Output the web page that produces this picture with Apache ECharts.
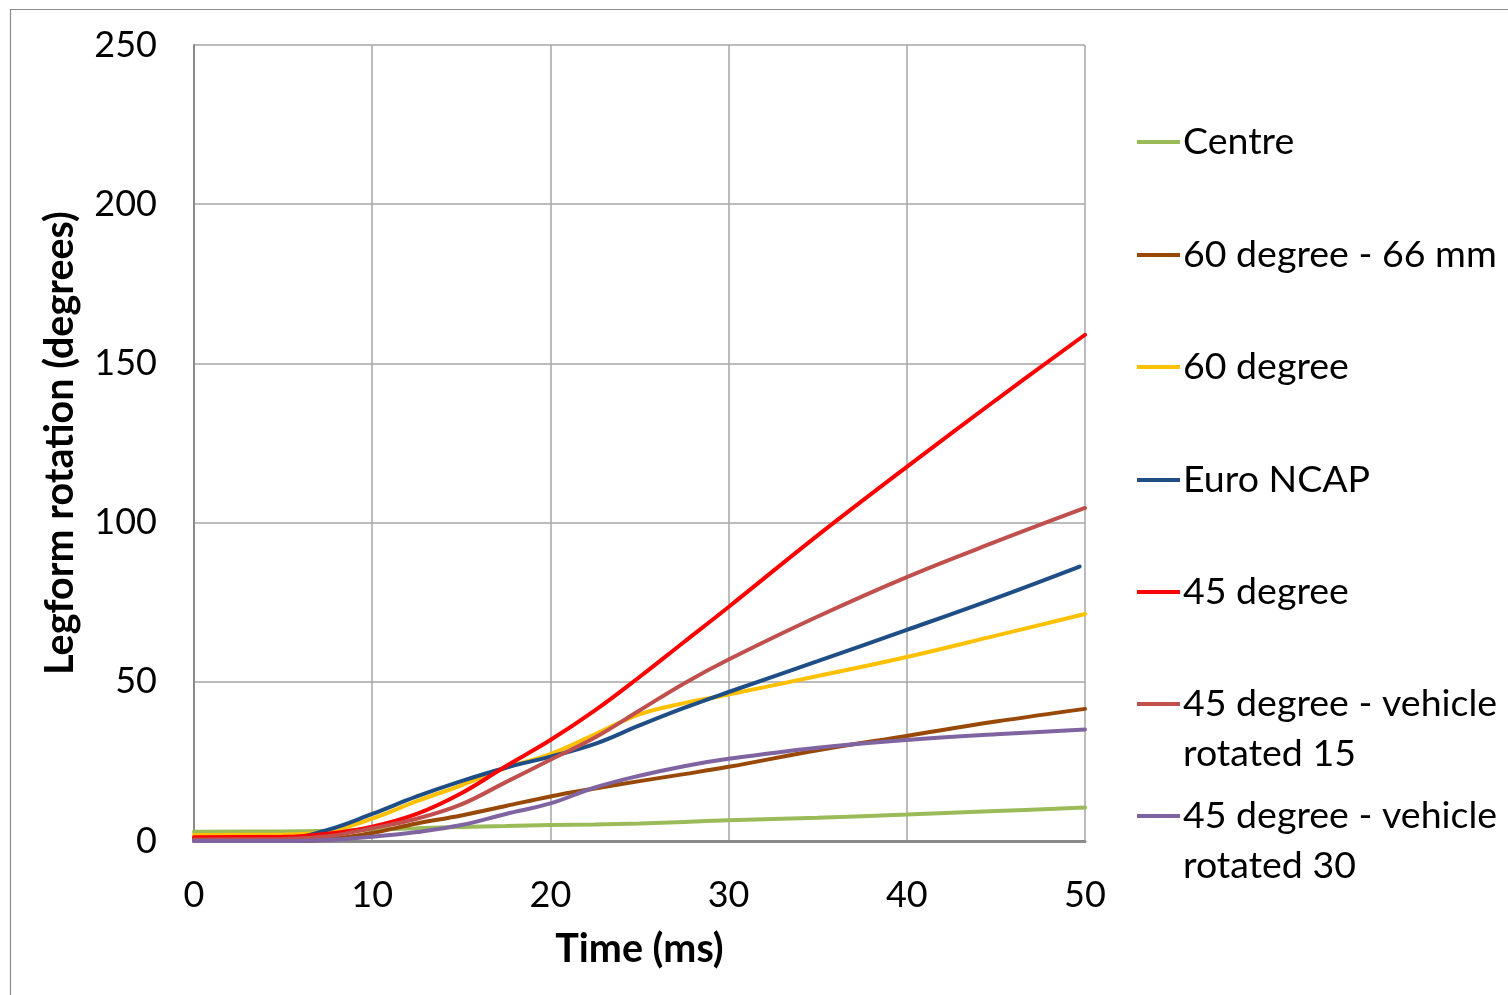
<!DOCTYPE html>
<html>
<head>
<meta charset="utf-8">
<script src="https://cdn.jsdelivr.net/npm/echarts@6/dist/echarts.min.js"></script>
<style>
html,body{margin:0;padding:0;background:#fff;}
#chart{width:1508px;height:995px;}
</style>
</head>
<body>
<div id="chart"></div>
<script>
// Time points (ms)
var time = [0, 5, 7.5, 10, 12.5, 15, 17.5, 20, 22.5, 25, 27.5, 30, 35, 40, 45, 50];
var timeEuro = [0, 5, 7.5, 10, 12.5, 15, 17.5, 20, 22.5, 25, 27.5, 30, 35, 40, 45, 49.7];

// Legform rotation (degrees)
var centre      = [2.9, 3.0, 3.2, 3.6, 4.0, 4.4, 4.7, 5.0, 5.2, 5.5, 6.0, 6.5, 7.3, 8.3, 9.4, 10.5];
var deg60mm66   = [0, 0, 0.5, 2.5, 5.5, 8, 11, 14, 16.5, 18.8, 21, 23.3, 28.5, 33, 37.5, 41.5];
var deg60       = [1.9, 2.0, 3.0, 7.0, 12.5, 17.5, 23, 27.3, 33.5, 39.8, 43.3, 46, 51.8, 57.8, 64.5, 71.3];
var euroNcap    = [0.8, 0.8, 3.5, 8.5, 14, 18.8, 23, 26.5, 30.5, 36.3, 41.8, 46.8, 56.5, 66.3, 76.3, 86.2];
var deg45       = [1.2, 1.3, 2.3, 4.5, 8.5, 15, 23.5, 31.7, 41, 51.5, 62.5, 73.5, 96, 117.5, 138.5, 159];
var deg45rot15  = [0.5, 0.6, 1.5, 4, 7, 11.5, 18.5, 25.5, 32.5, 41, 49.5, 57, 70.5, 82.9, 94, 104.6];
var deg45rot30  = [0, 0, 0.3, 1.3, 2.8, 5, 8.5, 11.8, 16.8, 20.5, 23.5, 25.8, 29.3, 31.7, 33.5, 35];

var names = ['Centre', '60 degree - 66 mm', '60 degree', 'Euro NCAP', '45 degree',
             '45 degree - vehicle rotated 15', '45 degree - vehicle rotated 30'];
var colors = ['#9BBB59', '#984807', '#FFC000', '#1F4E87', '#FF0000', '#C0504D', '#8064A2'];
var values = [centre, deg60mm66, deg60, euroNcap, deg45, deg45rot15, deg45rot30];
var xs = [time, time, time, timeEuro, time, time, time];

var yTicks = [0, 50, 100, 150, 200, 250];
var xTicks = [0, 10, 20, 30, 40, 50];

var FONT = 'Lato';

function pairs(x, y) { return x.map(function (t, i) { return [t, y[i]]; }); }

var series = names.map(function (n, i) {
  return {
    name: n,
    type: 'line',
    smooth: 0.4,
    symbol: 'none',
    data: pairs(xs[i], values[i]),
    lineStyle: { color: colors[i], width: 4, cap: 'round' },
    itemStyle: { color: colors[i] },
    z: 3
  };
});

var legendCenters = [142, 255, 367, 480, 592, 704, 816];
var legends = names.map(function (n, i) {
  var multi = n.indexOf('vehicle') >= 0;
  return {
    data: [{ name: n, icon: 'rect', itemStyle: { color: colors[i] } }],
    orient: 'vertical',
    left: 1137,
    top: multi ? legendCenters[i] - 75 : legendCenters[i] - 22,
    padding: 0,
    itemWidth: 43,
    itemHeight: 4,
    itemGap: 0,
    selectedMode: false,
    formatter: function (name) {
      if (name.indexOf(' - vehicle ') >= 0) {
        return '\n' + name.replace(' - vehicle ', ' - vehicle\n');
      }
      return name;
    },
    textStyle: multi ? {
      fontFamily: FONT, fontSize: 37.5, color: '#000', lineHeight: 50,
      padding: [0, 0, 0, -2]
    } : {
      fontFamily: FONT, fontSize: 37.5, color: '#000', lineHeight: 44,
      padding: [0, 0, 0, -2]
    }
  };
});

var chart = echarts.init(document.getElementById('chart'), null, { renderer: 'canvas' });
chart.setOption({
  backgroundColor: '#fff',
  animation: false,
  graphic: [{
    type: 'rect',
    shape: { x: 10.5, y: 9.5, width: 1520, height: 1010 },
    style: { fill: 'none', stroke: '#8c8c8c', lineWidth: 1.2 },
    silent: true, z: -10
  }],
  legend: legends,
  grid: { left: 194, right: 423, top: 45, bottom: 154, containLabel: false },
  xAxis: {
    type: 'value', min: xTicks[0], max: xTicks[xTicks.length - 1], interval: 10,
    name: 'Time (ms)', nameLocation: 'middle', nameGap: 88,
    nameTextStyle: { fontFamily: FONT, fontSize: 39.5, fontWeight: 'bold', color: '#000' },
    axisLine: { lineStyle: { color: '#8a8a8a', width: 3 } },
    axisTick: { show: false },
    axisLabel: { fontFamily: FONT, fontSize: 36, color: '#000', margin: 36 },
    splitLine: { show: true, lineStyle: { color: '#a6a6a6', width: 1.5 } }
  },
  yAxis: {
    type: 'value', min: yTicks[0], max: yTicks[yTicks.length - 1], interval: 50,
    name: 'Legform rotation (degrees)', nameLocation: 'middle', nameGap: 114,
    nameTextStyle: { fontFamily: FONT, fontSize: 39.5, fontWeight: 'bold', color: '#000' },
    axisLine: { show: true, lineStyle: { color: '#8a8a8a', width: 2 } },
    axisTick: { show: false },
    axisLabel: { fontFamily: FONT, fontSize: 36, color: '#000', margin: 37 },
    splitLine: { show: true, lineStyle: { color: '#a6a6a6', width: 1.5 } }
  },
  series: series
});
</script>
</body>
</html>
